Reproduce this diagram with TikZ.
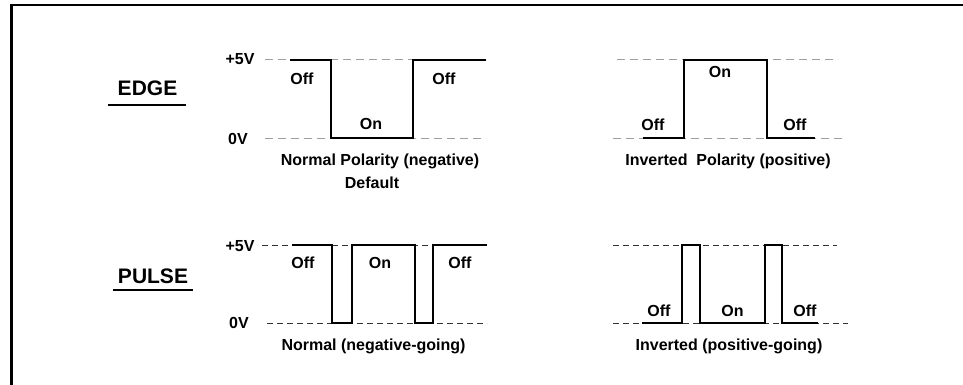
\documentclass[tikz,border=0pt]{standalone}
\usepackage{fontspec}
\setmainfont{Liberation Sans}
\begin{document}
\begin{tikzpicture}[x=1pt,y=-1pt,
  lbl/.style={inner sep=0pt,anchor=base,font=\fontsize{16}{19}\selectfont\bfseries},
  ttl/.style={inner sep=0pt,anchor=base,font=\fontsize{21}{24}\selectfont\bfseries},
  gridA/.style={draw=gray!75,line width=1pt,dash pattern=on 8pt off 5pt},
  gridB/.style={draw=black!80,line width=0.9pt,dash pattern=on 6pt off 4pt},
  sig/.style={draw=black,line width=1.8pt,line join=miter},
  frame/.style={draw=black,line width=2.5pt},
  uline/.style={draw=black,line width=2pt}]
\useasboundingbox (0,0) rectangle (963,385);
\fill[white] (0,0) rectangle (963,385);
% frame
\draw[frame] (11.5,385) -- (11.5,5) -- (963,5);

% ---------- EDGE ----------
\node[ttl] (edge) at (147.5,96) {EDGE};
\draw[uline] (108,105) -- (186,105);

% normal polarity
\draw[gridA] (265,60) -- (486,60);
\draw[gridA] (265,138) -- (486,138);
\draw[sig] (290,60) -- (331,60) -- (331,138) -- (413,138) -- (413,60) -- (486,60);
\node[lbl] (e5v) at (240,65) {+5V};
\node[lbl] (e0v) at (238,144) {0V};
\node[lbl] (eoff1) at (302,85) {Off};
\node[lbl] (eon) at (371,130) {On};
\node[lbl] (eoff2) at (444,85) {Off};
\node[lbl] (enorm) at (380,165) {Normal Polarity (negative)};
\node[lbl] (edef) at (372,188) {Default};

% inverted polarity
\draw[gridA] (617,60) -- (838,60);
\draw[gridA] (613,138) -- (843,138);
\draw[sig] (643,138) -- (684,138) -- (684,60) -- (767,60) -- (767,138) -- (815,138);
\node[lbl] (ion) at (720,78) {On};
\node[lbl] (ioff1) at (653,131) {Off};
\node[lbl] (ioff2) at (795,131) {Off};
\node[lbl] (iinv) at (728,165) {Inverted\ \ Polarity (positive)};

% ---------- PULSE ----------
\node[ttl] (pulse) at (153,283) {PULSE};
\draw[uline] (113,290) -- (193,290);

% normal pulse
\draw[gridB] (262,245) -- (487,245);
\draw[gridB] (267,323) -- (487,323);
\draw[sig] (292,245) -- (332,245) -- (332,323) -- (352,323) -- (352,245) -- (415,245) -- (415,323) -- (433,323) -- (433,245) -- (487,245);
\node[lbl] (p5v) at (240,251) {+5V};
\node[lbl] (p0v) at (239,328) {0V};
\node[lbl] (poff1) at (303,268) {Off};
\node[lbl] (pon) at (380,268) {On};
\node[lbl] (poff2) at (460,268) {Off};
\node[lbl] (pnorm) at (373.5,350) {Normal (negative-going)};

% inverted pulse
\draw[gridB] (613,245) -- (837,245);
\draw[gridB] (613,323) -- (848,323);
\draw[sig] (642,323) -- (682,323) -- (682,245) -- (700,245) -- (700,323) -- (765,323) -- (765,245) -- (782,245) -- (782,323) -- (818,323);
\node[lbl] (qoff1) at (659,316) {Off};
\node[lbl] (qon) at (732.5,316) {On};
\node[lbl] (qoff2) at (805,316) {Off};
\node[lbl] (qinv) at (729,350) {Inverted (positive-going)};
\end{tikzpicture}
\end{document}
